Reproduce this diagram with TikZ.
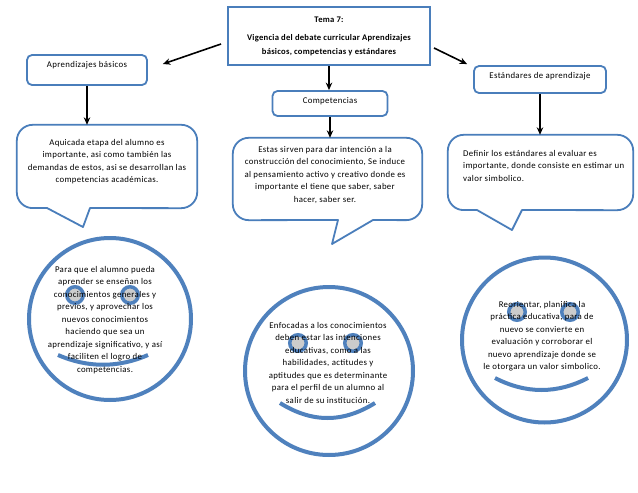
\documentclass[tikz,border=0pt]{standalone}
\usepackage{fontspec}
\setmainfont{Carlito}
\usetikzlibrary{arrows.meta}
\definecolor{ob}{HTML}{4F81BD}
\definecolor{obd}{HTML}{4A7EBB}
\begin{document}
\begin{tikzpicture}[x=1pt,y=-1pt,
  box/.style={draw=obd, line width=1.8pt, rounded corners=5pt, fill=white, inner sep=0},
  txt/.style={font=\fontsize{8.8}{12.5}\selectfont\addfontfeatures{LetterSpace=4}, align=center, inner sep=0},
  arr/.style={draw=black, line width=1.6pt, -{Stealth[length=7.5pt,width=6.5pt]}},
  bubble/.style={draw=obd, line width=1.8pt, line join=round},
  face/.style={circle, draw=ob, line width=4pt, inner sep=0},
  eye/.style={circle, draw=ob, fill=black!20, line width=3.5pt, minimum size=16.5pt, inner sep=0},
  smile/.style={draw=ob, line width=4pt},
  body/.style={minimum width=#1, inner sep=0},
]
\useasboundingbox (0,0) rectangle (638,493);
\fill[white] (0,0) rectangle (638,493);

% title box
\node[draw=obd, line width=2pt, minimum width=202pt, minimum height=58pt, align=center,
      font=\fontsize{8.6}{14}\selectfont\bfseries\addfontfeatures{LetterSpace=3}] (tema) at (329,36)
  {Tema 7:\\[4pt]Vigencia del debate curricular Aprendizajes\\básicos, competencias y estándares};

% level-2 boxes
\node[box, minimum width=120pt, minimum height=30pt] (ab) at (87,70) {};
\node[txt] (abt) at (87,65) {Aprendizajes básicos};
\node[box, minimum width=132pt, minimum height=27pt] (est) at (540,79.5) {};
\node[txt] (estt) at (540,76) {Estándares de aprendizaje};
\node[box, minimum width=115pt, minimum height=25pt] (comp) at (330,103.5) {};
\node[txt] (compt) at (330,101) {Competencias};

% callout bodies
\node[body=180pt, minimum height=83pt] (cA) at (107,166.5) {};
\node[body=189pt, minimum height=82pt] (cB) at (327.5,179) {};
\node[body=185pt, minimum height=75pt] (cC) at (540.5,172.5) {};

\draw[bubble] (cA.west) [rounded corners=16pt] -- (cA.north west) -- (cA.north east) -- (cA.south east)
  [sharp corners] -- (90,208) -- (83,227) -- (47,208) [rounded corners=16pt] -- (cA.south west) -- cycle;
\draw[bubble] (cB.west) [rounded corners=16pt] -- (cB.north west) -- (cB.north east) -- (cB.south east)
  [sharp corners] -- (373,220) -- (332,244) -- (338,220) [rounded corners=16pt] -- (cB.south west) -- cycle;
\draw[bubble] (cC.west) [rounded corners=16pt] -- (cC.north west) -- (cC.north east) -- (cC.south east)
  [sharp corners] -- (522,210) -- (512,230) -- (477,210) [rounded corners=16pt] -- (cC.south west) -- cycle;

\node[txt] (tA) at (107,161.5) {Aquicada etapa del alumno es\\importante, asi como también las\\demandas de estos, asi se desarrollan las\\competencias académicas.};
\node[txt] (tB) at (325,175) {Estas sirven para dar intención a la\\construcción del conocimiento, Se induce\\al pensamiento activo y creativo donde es\\importante el tiene que saber, saber\\hacer, saber ser.};
\node[txt, align=left, anchor=west] (tC) at (463,165.5) {Definir los estándares al evaluar es\\importante, donde consiste en estimar un\\valor simbolico.};

% arrows
\draw[arr] ([shift={(-6,8)}]tema.west) -- ([shift={(15,-6)}]ab.east);
\draw[arr] ([shift={(3,12)}]tema.east) -- ([shift={(-6,-1)}]est.north west);
\draw[arr] (tema.south) -- (tema.south |- comp.north);
\draw[arr] (ab.south) -- (ab.south |- cA.north);
\draw[arr] (comp.south) -- (comp.south |- cB.north);
\draw[arr] (est.south) -- (est.south |- cC.north);

% faces
\node[face, minimum size=162pt] (fA) at (110,319) {};
\node[eye] (eA1) at (75,295) {};
\node[eye] (eA2) at (130,295) {};
\draw[smile] (58,355) .. controls (88,368) and (118,368) .. (148,355);
\node[txt] (fAt) at (105,320) {Para que el alumno pueda\\aprender se enseñan los\\conocimientos generales y\\previos, y aprovechar los\\nuevos conocimientos\\haciendo que sea un\\aprendizaje significativo, y así\\faciliten el logro de\\competencias.};

\node[face, minimum size=168pt] (fB) at (329,371) {};
\node[eye] (eB1) at (298,343) {};
\node[eye] (eB2) at (353,343) {};
\draw[smile] (280,403) .. controls (312,423) and (343,423) .. (375,403);
\node[txt] (fBt) at (328,362.5) {Enfocadas a los conocimientos\\deben estar las intenciones\\educativas, como a las\\habilidades, actitudes y\\aptitudes que es determinante\\para el perfil de un alumno al\\salir de su institución.};

\node[face, minimum size=165pt] (fC) at (544.5,340) {};
\node[eye] (eC1) at (517,312) {};
\node[eye] (eC2) at (570,312) {};
\draw[smile] (495,378) .. controls (526,394) and (557,394) .. (588,378);
\node[txt] (fCt) at (542,336) {Reorientar, planifica la\\práctica educativa, para de\\nuevo se convierte en\\evaluación y corroborar el\\nuevo aprendizaje donde se\\le otorgara un valor simbolico.};
\end{tikzpicture}
\end{document}
